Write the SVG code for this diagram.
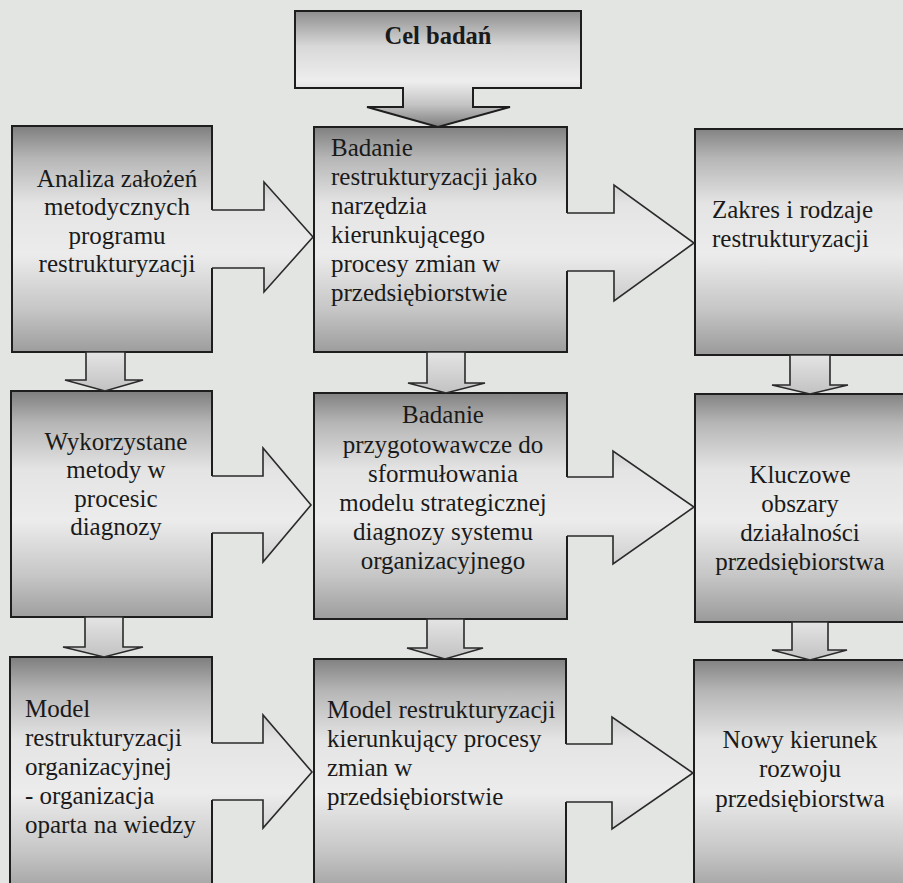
<svg xmlns="http://www.w3.org/2000/svg" width="903" height="883" viewBox="0 0 903 883">
<defs>
<style>
.box{stroke:#1e1e1e;stroke-width:2;}
.ln{fill:none;stroke:#2a2a2a;stroke-width:1.6;stroke-linejoin:miter;}
.va{fill:url(#gV);stroke:#2a2a2a;stroke-width:1.6;}
text{font-family:"Liberation Serif","Times New Roman",serif;font-size:25px;fill:#1a1a1a;}
.c{text-anchor:middle;}
.b{font-weight:bold;font-size:24.5px;}
</style>
<linearGradient id="gTop" gradientUnits="userSpaceOnUse" x1="0" y1="11" x2="0" y2="128">
<stop offset="0" stop-color="#8e8e8e"/><stop offset="0.3" stop-color="#d8d8d8"/><stop offset="0.6" stop-color="#eeeeee"/><stop offset="0.8" stop-color="#c4c4c4"/><stop offset="1" stop-color="#7a7a7a"/>
</linearGradient>
<linearGradient id="g1" gradientUnits="userSpaceOnUse" x1="0" y1="126" x2="0" y2="355">
<stop offset="0" stop-color="#7e7e7e"/><stop offset="0.14" stop-color="#b6b6b6"/><stop offset="0.34" stop-color="#e4e4e4"/><stop offset="0.56" stop-color="#ececec"/><stop offset="0.8" stop-color="#c6c6c6"/><stop offset="1" stop-color="#9a9a9a"/>
</linearGradient>
<linearGradient id="g2" gradientUnits="userSpaceOnUse" x1="0" y1="391" x2="0" y2="622">
<stop offset="0" stop-color="#7e7e7e"/><stop offset="0.14" stop-color="#b6b6b6"/><stop offset="0.34" stop-color="#e4e4e4"/><stop offset="0.56" stop-color="#ececec"/><stop offset="0.8" stop-color="#c6c6c6"/><stop offset="1" stop-color="#9a9a9a"/>
</linearGradient>
<linearGradient id="g3" gradientUnits="userSpaceOnUse" x1="0" y1="657" x2="0" y2="900">
<stop offset="0" stop-color="#7e7e7e"/><stop offset="0.14" stop-color="#b6b6b6"/><stop offset="0.34" stop-color="#e4e4e4"/><stop offset="0.56" stop-color="#ececec"/><stop offset="0.8" stop-color="#c6c6c6"/><stop offset="1" stop-color="#9a9a9a"/>
</linearGradient>
<linearGradient id="gV" x1="0" y1="0" x2="0" y2="1">
<stop offset="0" stop-color="#e4e4e4"/><stop offset="1" stop-color="#c2c2c2"/>
</linearGradient>
</defs>

<rect x="0" y="0" width="903" height="883" fill="#e3e5e3"/>

<g id="nodes">
<g id="cel">
<path d="M295,11 H581 V88 H473 V107 H510 L438,127 L367,107 H403 V88 H295 Z" fill="url(#gTop)" class="box"/>
<text x="438" y="44" class="c b">Cel badań</text>
</g>

<g id="analiza">
<rect x="12" y="126" width="200" height="226" fill="url(#g1)" class="box"/>
<text class="c"><tspan x="117" y="187">Analiza założeń</tspan><tspan x="117" y="215">metodycznych</tspan><tspan x="117" y="244">programu</tspan><tspan x="117" y="272">restrukturyzacji</tspan></text>
</g>

<g id="badanie1">
<rect x="314" y="127" width="253" height="225" fill="url(#g1)" class="box"/>
<text><tspan x="331" y="156">Badanie</tspan><tspan x="331" y="185">restrukturyzacji jako</tspan><tspan x="331" y="214">narzędzia</tspan><tspan x="331" y="243">kierunkującego</tspan><tspan x="331" y="272">procesy zmian w</tspan><tspan x="331" y="301">przedsiębiorstwie</tspan></text>
</g>

<g id="zakres">
<rect x="695" y="129" width="220" height="226" fill="url(#g1)" class="box"/>
<text><tspan x="712" y="218">Zakres i rodzaje</tspan><tspan x="712" y="247">restrukturyzacji</tspan></text>
</g>

<g id="metody">
<rect x="11" y="391" width="201" height="226" fill="url(#g2)" class="box"/>
<text class="c"><tspan x="116" y="450">Wykorzystane</tspan><tspan x="116" y="478">metody w</tspan><tspan x="116" y="507">procesic</tspan><tspan x="116" y="535">diagnozy</tspan></text>
</g>

<g id="badanie2">
<rect x="314" y="393" width="253" height="226" fill="url(#g2)" class="box"/>
<text class="c"><tspan x="443" y="423">Badanie</tspan><tspan x="443" y="453">przygotowawcze do</tspan><tspan x="443" y="482">sformułowania</tspan><tspan x="443" y="511">modelu strategicznej</tspan><tspan x="443" y="540">diagnozy systemu</tspan><tspan x="443" y="569">organizacyjnego</tspan></text>
</g>

<g id="kluczowe">
<rect x="695" y="394" width="220" height="228" fill="url(#g2)" class="box"/>
<text class="c"><tspan x="800" y="483">Kluczowe</tspan><tspan x="800" y="512">obszary</tspan><tspan x="800" y="541">działalności</tspan><tspan x="800" y="570">przedsiębiorstwa</tspan></text>
</g>

<g id="model1">
<rect x="10" y="657" width="202" height="245" fill="url(#g3)" class="box"/>
<text><tspan x="25" y="717">Model</tspan><tspan x="25" y="746">restrukturyzacji</tspan><tspan x="25" y="775">organizacyjnej</tspan><tspan x="25" y="804">- organizacja</tspan><tspan x="25" y="833">oparta na wiedzy</tspan></text>
</g>

<g id="model2">
<rect x="314" y="659" width="252" height="243" fill="url(#g3)" class="box"/>
<text><tspan x="327" y="718">Model restrukturyzacji</tspan><tspan x="327" y="747">kierunkujący procesy</tspan><tspan x="327" y="776">zmian w</tspan><tspan x="327" y="805">przedsiębiorstwie</tspan></text>
</g>

<g id="nowy">
<rect x="694" y="660" width="220" height="242" fill="url(#g3)" class="box"/>
<text class="c"><tspan x="800" y="748">Nowy kierunek</tspan><tspan x="800" y="777">rozwoju</tspan><tspan x="800" y="807">przedsiębiorstwa</tspan></text>
</g>
</g>

<g id="connectors">
<polygon points="210.5,210 264,210 264,182 313,237 264,292 264,268 210.5,268" fill="url(#g1)"/>
<polyline class="ln" points="212,210 264,210 264,182 313,237 264,292 264,268 212,268"/>
<polygon points="565.5,213 614,213 614,185 694,243 614,301 614,271 565.5,271" fill="url(#g1)"/>
<polyline class="ln" points="567,213 614,213 614,185 694,243 614,301 614,271 567,271"/>
<polygon points="210.5,476 263,476 263,448 311,505 263,562 263,533 210.5,533" fill="url(#g2)"/>
<polyline class="ln" points="212,476 263,476 263,448 311,505 263,562 263,533 212,533"/>
<polygon points="565.5,477 613,477 613,451 694,507 613,564 613,536 565.5,536" fill="url(#g2)"/>
<polyline class="ln" points="567,477 613,477 613,451 694,507 613,564 613,536 567,536"/>
<polygon points="210.5,743 263,743 263,715 312,772 263,828 263,800 210.5,800" fill="url(#g3)"/>
<polyline class="ln" points="212,743 263,743 263,715 312,772 263,828 263,800 212,800"/>
<polygon points="564.5,744 612,744 612,717 693,773 612,829 612,802 564.5,802" fill="url(#g3)"/>
<polyline class="ln" points="566,744 612,744 612,717 693,773 612,829 612,802 566,802"/>
<polygon class="va" points="86,352 125,352 125,380 143,380 105,391 65,380 86,380"/>
<polygon class="va" points="427,352 465,352 465,383 485,383 446,393 408,383 427,383"/>
<polygon class="va" points="790,355 830,355 830,385 848,385 810,394 772,385 790,385"/>
<polygon class="va" points="85,617 123,617 123,647 143,647 104,657 63,647 85,647"/>
<polygon class="va" points="427,619 464,619 464,648 483,648 445,659 407,648 427,648"/>
<polygon class="va" points="792,622 828,622 828,650 847,650 810,660 772,650 792,650"/>
</g>
</svg>
